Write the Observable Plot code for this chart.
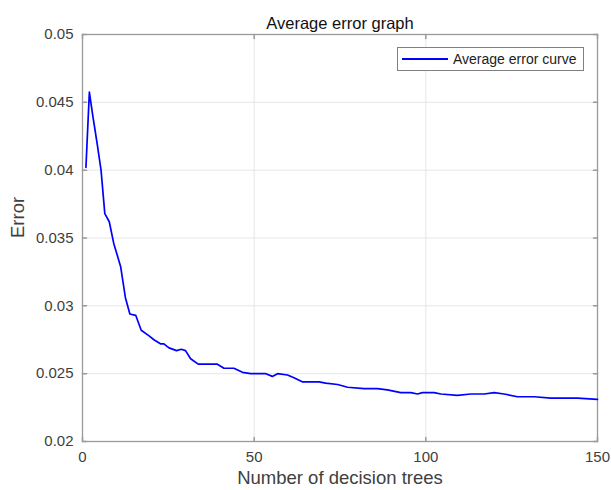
<!DOCTYPE html>
<html>
<head>
<meta charset="utf-8">
<script src="https://cdn.jsdelivr.net/npm/d3@7"></script>
<script src="https://cdn.jsdelivr.net/npm/@observablehq/plot@0.6"></script>
<style>
  html, body { margin: 0; padding: 0; background: #fff; }
  #chart svg { display: block; }
</style>
</head>
<body>
<div id="chart"></div>
<script>
const title = "Average error graph";
const xLabel = "Number of decision trees";
const yLabel = "Error";
const seriesName = "Average error curve";

const trees = [1, 2, 3, 3.5, 4.3, 5.4, 6.5, 7.8, 9.1, 11.1, 12.5, 13.8, 15.5, 17.1, 19.3, 20.8, 22.7, 23.7, 25.2, 27.4, 28.8, 30, 31.5, 33.7, 35.4, 39.3, 41.2, 44.1, 46.6, 49, 50.9, 53.4, 55.3, 56.8, 59.7, 61.6, 64, 66.5, 68.9, 70.8, 74.3, 77.2, 82, 85.9, 88.8, 92.7, 95.6, 97.6, 99, 102.4, 104.4, 109.2, 113.1, 117, 119.9, 122.8, 126.7, 131.6, 136.4, 141.3, 144.2, 150];
const errors = [0.0402, 0.04575, 0.0440, 0.0432, 0.0419, 0.0400, 0.0368, 0.0362, 0.0346, 0.0329, 0.0306, 0.0294, 0.0293, 0.0282, 0.0278, 0.0275, 0.0272, 0.0272, 0.0269, 0.0267, 0.0268, 0.0267, 0.0261, 0.0257, 0.0257, 0.0257, 0.0254, 0.0254, 0.0251, 0.0250, 0.0250, 0.0250, 0.0248, 0.0250, 0.0249, 0.0247, 0.0244, 0.0244, 0.0244, 0.0243, 0.0242, 0.0240, 0.0239, 0.0239, 0.0238, 0.0236, 0.0236, 0.0235, 0.0236, 0.0236, 0.0235, 0.0234, 0.0235, 0.0235, 0.0236, 0.0235, 0.0233, 0.0233, 0.0232, 0.0232, 0.0232, 0.0231];

const xTicks = [0, 50, 100, 150];
const yTicks = [0.02, 0.025, 0.03, 0.035, 0.04, 0.045, 0.05];
const yTickLabels = ["0.02", "0.025", "0.03", "0.035", "0.04", "0.045", "0.05"];

const data = trees.map((t, i) => ({t, e: errors[i]}));

const font = "'Liberation Sans', Arial, sans-serif";
const textColor = "#404040";
const boxColor = "#9a9a9a";

// inward tick mark shape for vectors
const tickShape = { draw(context, l) { context.moveTo(0, 0); context.lineTo(0, -l); } };

const plot = Plot.plot({
  width: 611,
  height: 490,
  marginLeft: 82,
  marginRight: 14,
  marginTop: 34,
  marginBottom: 49,
  style: { fontFamily: font, fontSize: "15px", color: textColor, background: "#fff", overflow: "visible" },
  x: { domain: [0, 150] },
  y: { domain: [0.02, 0.05] },
  marks: [
    Plot.gridX(xTicks, { stroke: "#e6e6e6", strokeOpacity: 1 }),
    Plot.gridY(yTicks, { stroke: "#e6e6e6", strokeOpacity: 1 }),
    Plot.axisX({ ticks: xTicks, tickSize: 0, tickPadding: 10, fontSize: 15, fill: textColor, label: null }),
    Plot.axisY({ ticks: yTicks, tickSize: 0, tickPadding: 9, tickFormat: (d) => yTickLabels[yTicks.indexOf(d)], fontSize: 15, fill: textColor, label: null }),
    // inward tick marks on all four sides (MATLAB box style)
    Plot.vector(xTicks, { x: (d) => d, y: 0.02, rotate: 0, length: 4, anchor: "start", shape: tickShape, stroke: boxColor }),
    Plot.vector(xTicks, { x: (d) => d, y: 0.05, rotate: 180, length: 4, anchor: "start", shape: tickShape, stroke: boxColor }),
    Plot.vector(yTicks, { x: 0, y: (d) => d, rotate: 90, length: 4, anchor: "start", shape: tickShape, stroke: boxColor }),
    Plot.vector(yTicks, { x: 150, y: (d) => d, rotate: 270, length: 4, anchor: "start", shape: tickShape, stroke: boxColor }),
    Plot.frame({ stroke: boxColor, strokeWidth: 1.3 }),
    Plot.line(data, { x: "t", y: "e", stroke: "#0000ff", strokeWidth: 1.7 }),
    Plot.text([title], { frameAnchor: "top", dy: -17, fontSize: 16.5, fill: "#111" }),
    Plot.text([xLabel], { frameAnchor: "bottom", dy: 42, fontSize: 18.5, fill: textColor }),
    Plot.text([yLabel], { frameAnchor: "left", dx: -64, rotate: -90, fontSize: 18.5, fill: textColor })
  ]
});

document.getElementById("chart").appendChild(plot);

// Legend box (MATLAB style, inside the axes, northeast)
const svg = d3.select(plot);
const lg = svg.append("g").attr("font-family", font).attr("text-anchor", "start");
lg.append("rect").attr("x", 397.5).attr("y", 47.5).attr("width", 186).attr("height", 23)
  .attr("fill", "#fff").attr("stroke", "#808080").attr("stroke-width", 1);
lg.append("line").attr("x1", 402).attr("x2", 448).attr("y1", 59).attr("y2", 59)
  .attr("stroke", "#0000ff").attr("stroke-width", 1.8);
lg.append("text").attr("x", 453).attr("y", 59).attr("dy", "0.35em")
  .attr("font-size", 14).attr("fill", "#222").text(seriesName);
</script>
</body>
</html>
